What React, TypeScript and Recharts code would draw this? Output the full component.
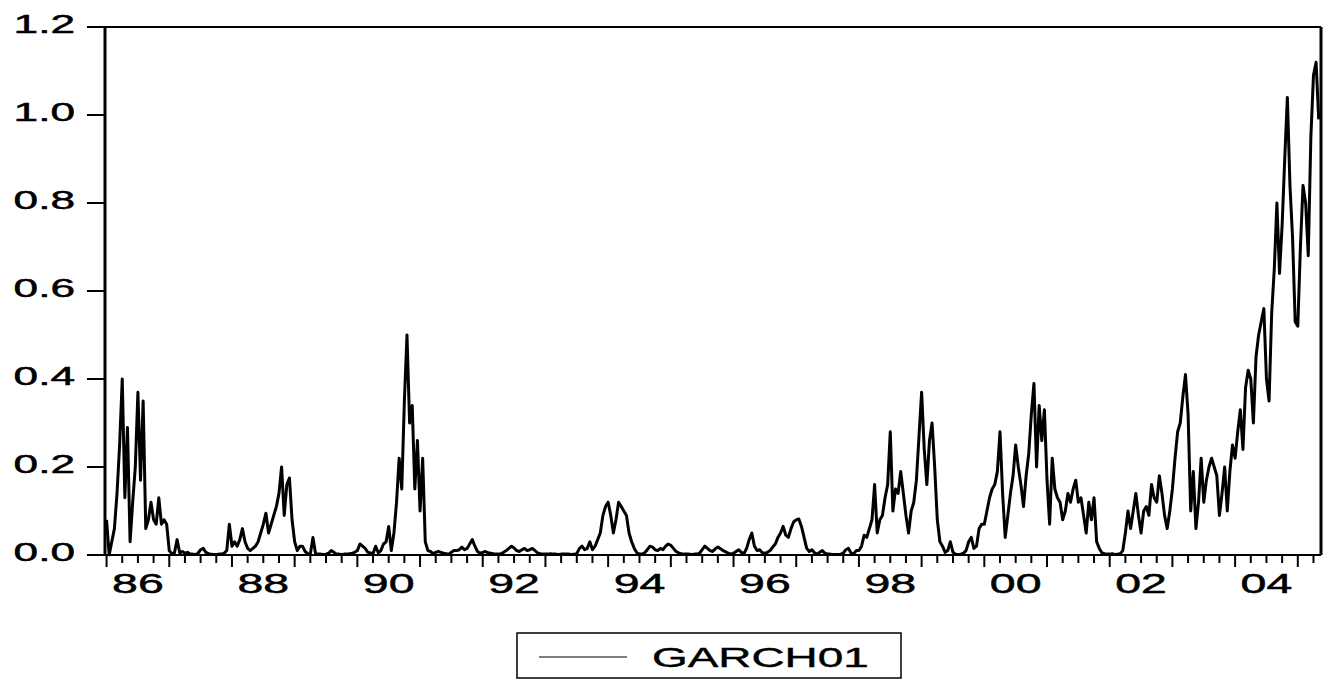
import { FC } from 'react';
import {
	LineChart,
	Line,
	XAxis,
	YAxis,
	Legend,
	ReferenceLine,
} from 'recharts';

// half-monthly readings of the conditional variance, one array per year
const v1986 = [0.08, 0.0, 0.03, 0.06, 0.14, 0.25, 0.4, 0.13, 0.29, 0.03, 0.12, 0.2, 0.37, 0.17, 0.35, 0.06, 0.08, 0.12, 0.08, 0.07, 0.13, 0.07, 0.08, 0.07];
const v1987 = [0.01, 0.003, 0.005, 0.035, 0.005, 0.008, 0.004, 0.006, 0.002, 0.002, 0.001, 0.004, 0.012, 0.015, 0.006, 0.003, 0.002, 0.001, 0.001, 0.002, 0.002, 0.004, 0.01, 0.07];
const v1988 = [0.02, 0.03, 0.02, 0.035, 0.06, 0.03, 0.015, 0.01, 0.015, 0.02, 0.03, 0.05, 0.07, 0.095, 0.05, 0.07, 0.09, 0.11, 0.14, 0.2, 0.09, 0.16, 0.175, 0.08];
const v1989 = [0.03, 0.01, 0.02, 0.02, 0.008, 0.003, 0.002, 0.04, 0.003, 0.002, 0.002, 0.001, 0.002, 0.004, 0.01, 0.006, 0.002, 0.002, 0.001, 0.002, 0.002, 0.003, 0.004, 0.006];
const v1990 = [0.01, 0.025, 0.02, 0.015, 0.006, 0.005, 0.003, 0.02, 0.005, 0.01, 0.025, 0.03, 0.065, 0.01, 0.05, 0.12, 0.22, 0.15, 0.35, 0.5, 0.3, 0.34, 0.15, 0.26];
const v1991 = [0.1, 0.22, 0.03, 0.01, 0.008, 0.003, 0.006, 0.008, 0.006, 0.004, 0.003, 0.002, 0.006, 0.01, 0.01, 0.012, 0.018, 0.012, 0.015, 0.025, 0.035, 0.02, 0.008, 0.004];
const v1992 = [0.006, 0.008, 0.005, 0.004, 0.003, 0.002, 0.002, 0.003, 0.006, 0.01, 0.015, 0.02, 0.016, 0.01, 0.008, 0.012, 0.015, 0.01, 0.012, 0.015, 0.01, 0.005, 0.003, 0.002];
const v1993 = [0.002, 0.002, 0.003, 0.002, 0.002, 0.001, 0.002, 0.002, 0.002, 0.002, 0.001, 0.002, 0.003, 0.015, 0.02, 0.012, 0.015, 0.03, 0.012, 0.02, 0.035, 0.05, 0.09, 0.11];
const v1994 = [0.12, 0.09, 0.05, 0.08, 0.12, 0.11, 0.1, 0.09, 0.05, 0.03, 0.015, 0.005, 0.002, 0.002, 0.005, 0.012, 0.02, 0.018, 0.012, 0.01, 0.015, 0.012, 0.02, 0.025];
const v1995 = [0.022, 0.015, 0.008, 0.005, 0.003, 0.002, 0.002, 0.002, 0.001, 0.002, 0.002, 0.004, 0.012, 0.02, 0.015, 0.01, 0.008, 0.014, 0.018, 0.014, 0.01, 0.007, 0.004, 0.002];
const v1996 = [0.004, 0.008, 0.012, 0.006, 0.003, 0.015, 0.035, 0.05, 0.02, 0.01, 0.012, 0.005, 0.004, 0.006, 0.01, 0.018, 0.025, 0.04, 0.05, 0.065, 0.045, 0.04, 0.06, 0.075];
const v1997 = [0.08, 0.082, 0.065, 0.04, 0.015, 0.008, 0.012, 0.005, 0.002, 0.006, 0.01, 0.004, 0.002, 0.002, 0.001, 0.001, 0.001, 0.002, 0.004, 0.012, 0.015, 0.004, 0.003, 0.01];
const v1998 = [0.01, 0.02, 0.045, 0.04, 0.06, 0.08, 0.16, 0.05, 0.08, 0.09, 0.13, 0.16, 0.28, 0.1, 0.15, 0.14, 0.19, 0.14, 0.09, 0.05, 0.1, 0.12, 0.17, 0.27];
const v1999 = [0.37, 0.24, 0.16, 0.26, 0.3, 0.2, 0.08, 0.03, 0.02, 0.006, 0.01, 0.03, 0.006, 0.002, 0.001, 0.002, 0.004, 0.01, 0.03, 0.04, 0.015, 0.02, 0.06, 0.07];
const v2000 = [0.07, 0.1, 0.13, 0.15, 0.16, 0.19, 0.28, 0.14, 0.04, 0.09, 0.14, 0.18, 0.25, 0.2, 0.16, 0.11, 0.18, 0.23, 0.32, 0.39, 0.2, 0.34, 0.26, 0.33];
const v2001 = [0.17, 0.07, 0.22, 0.15, 0.13, 0.12, 0.08, 0.1, 0.14, 0.12, 0.15, 0.17, 0.12, 0.13, 0.09, 0.05, 0.12, 0.08, 0.13, 0.03, 0.015, 0.005, 0.003, 0.002];
const v2002 = [0.002, 0.003, 0.001, 0.002, 0.003, 0.01, 0.05, 0.1, 0.06, 0.1, 0.14, 0.09, 0.05, 0.1, 0.11, 0.09, 0.16, 0.13, 0.12, 0.18, 0.14, 0.09, 0.06, 0.1];
const v2003 = [0.15, 0.22, 0.28, 0.3, 0.36, 0.41, 0.32, 0.1, 0.19, 0.06, 0.12, 0.22, 0.12, 0.17, 0.2, 0.22, 0.2, 0.18, 0.09, 0.14, 0.2, 0.1, 0.19, 0.25];
const v2004 = [0.22, 0.28, 0.33, 0.24, 0.38, 0.42, 0.4, 0.3, 0.45, 0.5, 0.53, 0.56, 0.4, 0.35, 0.55, 0.65, 0.8, 0.64, 0.75, 0.9, 1.04, 0.84, 0.72, 0.53];
const v2005 = [0.52, 0.7, 0.84, 0.8, 0.68, 0.95, 1.09, 1.12, 0.99];

const years = [1986, 1987, 1988, 1989, 1990, 1991, 1992, 1993, 1994, 1995, 1996, 1997, 1998, 1999, 2000, 2001, 2002, 2003, 2004, 2005];
const yearValues = [v1986, v1987, v1988, v1989, v1990, v1991, v1992, v1993, v1994, v1995, v1996, v1997, v1998, v1999, v2000, v2001, v2002, v2003, v2004, v2005];

const yTicks = [0, 0.2, 0.4, 0.6, 0.8, 1.0, 1.2];
const xDomain: [number, number] = [1985.975, 2005.37];

const data = yearValues.flatMap((vals, i) =>
	vals.map((v, k) => ({ t: years[i] + k / 24, GARCH01: v })),
);

// quarter ticks; labels sit mid-year on even years
const xTicks: number[] = [];
for (let q = 1986 * 4; q <= 2005 * 4 + 1; q++) xTicks.push(q / 4);

const FONT = 'Liberation Sans, Arial, sans-serif';

const XTick: FC<any> = ({ x, y, payload }) => {
	const v: number = payload.value;
	const yr = Math.floor(v + 1e-9);
	const frac = v - yr;
	const isYear = frac < 1e-6;
	const showLabel = Math.abs(frac - 0.5) < 1e-6 && yr % 2 === 0;
	return (
		<g>
			<line x1={x} y1={y} x2={x} y2={y + (isYear ? 12 : 8)} stroke="#000" strokeWidth={2} />
			{showLabel && (
				<text
					transform={`translate(${x},${y + 38}) scale(1.66,1)`}
					textAnchor="middle"
					fontSize={28}
					fontFamily={FONT}
					fill="#000"
					stroke="#000"
					strokeWidth={0.5}>
					{String(yr % 100).padStart(2, '0')}
				</text>
			)}
		</g>
	);
};

const YTick: FC<any> = ({ x, y, payload }) => (
	<g>
		<line x1={x - 18} y1={y} x2={x} y2={y} stroke="#000" strokeWidth={2} />
		<text
			transform={`translate(${x - 30},${y + 6}) scale(1.7,1)`}
			textAnchor="end"
			fontSize={26}
			fontFamily={FONT}
			fill="#000"
			stroke="#000"
			strokeWidth={0.5}>
			{Number(payload.value).toFixed(1)}
		</text>
	</g>
);

const LegendBox: FC<any> = () => (
	<svg width={386} height={47}>
		<rect x={1} y={1} width={384} height={45} fill="#fff" stroke="#000" strokeWidth={1.5} />
		<line x1={23} y1={25} x2={111} y2={25} stroke="#000" strokeWidth={1.2} />
		<text
			transform="translate(136,35) scale(1.64,1)"
			fontSize={28}
			fontFamily={FONT}
			fill="#000"
			stroke="#000"
			strokeWidth={0.4}>
			GARCH01
		</text>
	</svg>
);

const App: FC = () => (
	<div style={{ position: 'absolute', left: 0, top: 0, width: 1334, height: 692, background: '#fff' }}>
		<LineChart
			width={1334}
			height={692}
			data={data}
			margin={{ top: 27, right: 13, left: 0, bottom: 87 }}>
			<XAxis
				dataKey="t"
				type="number"
				domain={xDomain}
				ticks={xTicks}
				interval={0}
				height={50}
				tickSize={0}
				tickMargin={0}
				tickLine={false}
				tick={<XTick />}
				axisLine={{ stroke: '#000', strokeWidth: 2 }}
			/>
			<YAxis
				type="number"
				domain={[0, 1.2]}
				ticks={yTicks}
				interval={0}
				width={105}
				tickSize={0}
				tickMargin={0}
				tickLine={false}
				tick={<YTick />}
				axisLine={{ stroke: '#000', strokeWidth: 3 }}
			/>
			<ReferenceLine y={1.2} stroke="#000" strokeWidth={2} />
			<ReferenceLine x={xDomain[1]} stroke="#000" strokeWidth={3} />
			<Line
				type="linear"
				dataKey="GARCH01"
				stroke="#000"
				strokeWidth={3}
				strokeLinejoin="round"
				dot={false}
				isAnimationActive={false}
			/>
			<Legend
				layout="horizontal"
				verticalAlign="middle"
				align="center"
				content={<LegendBox />}
				wrapperStyle={{ top: 632, left: 516, width: 386, height: 47 }}
			/>
		</LineChart>
	</div>
);

export default App;
